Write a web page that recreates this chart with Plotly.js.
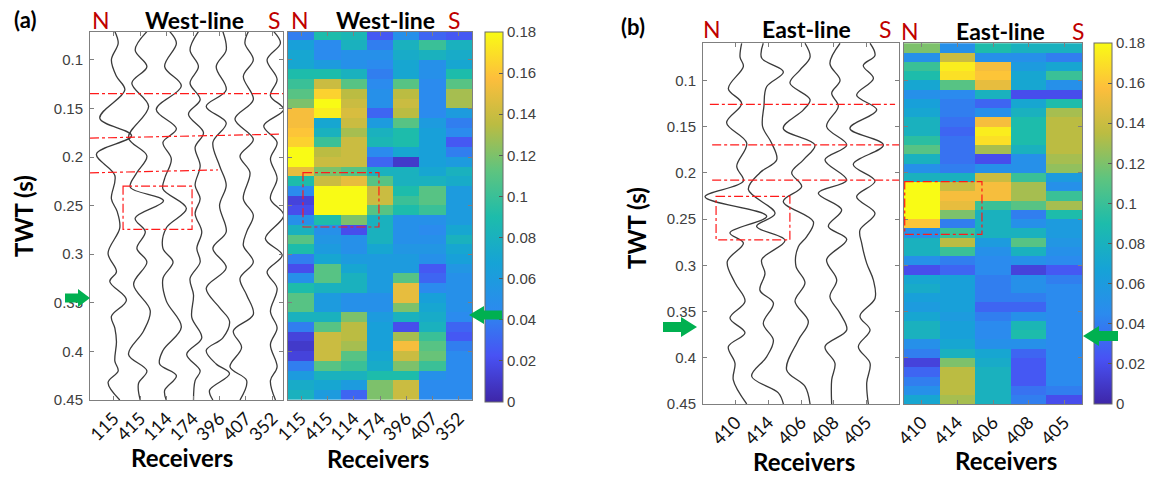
<!DOCTYPE html>
<html>
<head>
<meta charset="utf-8">
<script src="https://cdn.plot.ly/plotly-3.0.1.min.js"></script>
<style>
  html, body { margin: 0; padding: 0; background: #fff; }
  #wrap { position: relative; width: 1159px; height: 477px; }
  #chart { width: 1159px; height: 477px; }
  #marks { position: absolute; left: 0; top: 0; pointer-events: none; }
</style>
</head>
<body>
<div id="wrap">
  <div id="chart"></div>
  <svg id="marks" width="1159" height="477"></svg>
</div>
<script>
// ---------- receivers ----------
const westReceivers = ['115', '415', '114', '174', '396', '407', '352'];
const eastReceivers = ['410', '414', '406', '408', '405'];

// ---------- West-line wiggle traces: pick times (s) and normalised amplitudes ----------
const wT115 = [0.071,0.083,0.100,0.117,0.131,0.160,0.178,0.197,0.219,0.243,0.256,0.273,0.299,0.318,0.328,0.347,0.364,0.376,0.390,0.410,0.420,0.432,0.450];
const wA115 = [0.08,0.33,-0.18,0.2,0.83,-1.05,1.33,-1.3,0.08,-0.18,0.25,0.45,-0.43,0.2,-0.3,0.95,-0.18,0.08,0.2,0.08,0.33,-0.43,0.45];
const wT415 = [0.071,0.090,0.107,0.124,0.148,0.180,0.199,0.216,0.231,0.245,0.263,0.277,0.294,0.308,0.331,0.358,0.379,0.403,0.420,0.433,0.450];
const wA415 = [0.5,-0.38,0.5,-0.63,0.63,-0.88,0.5,-0.25,-0.75,1.75,-0.38,0.38,-0.25,0.5,-0.5,0.75,0.25,-0.88,0.5,-0.13,0];
const wT114 = [0.071,0.083,0.107,0.127,0.151,0.171,0.185,0.202,0.222,0.233,0.253,0.273,0.294,0.308,0.325,0.348,0.375,0.399,0.413,0.425,0.440,0.450];
const wA114 = [0.23,0.73,-0.15,1.1,-0.78,0.73,-0.28,0.35,-0.15,-0.28,1.48,-0.03,-0.28,0.48,-0.28,-0.03,1.1,-0.28,-0.53,0.73,-0.15,-0.03];
const wT174 = [0.071,0.090,0.107,0.124,0.141,0.156,0.175,0.190,0.209,0.229,0.243,0.258,0.277,0.294,0.308,0.325,0.342,0.365,0.386,0.403,0.420,0.430,0.450];
const wA174 = [0.4,-0.23,0.4,-0.23,0.53,-0.35,0.78,0.15,0.53,0.15,0.53,0.15,0.65,0.28,0.53,-0.23,0.03,-0.1,0.65,-0.48,0.53,0.15,0.03];
const wT396 = [0.071,0.090,0.107,0.131,0.148,0.165,0.185,0.209,0.229,0.250,0.277,0.294,0.314,0.335,0.355,0.369,0.386,0.399,0.413,0.423,0.440,0.450];
const wA396 = [0.25,0.5,-0.25,0.5,-1.0,0.5,-0.5,0,0.5,0,0.5,-0.5,0.5,-1.0,0,0.75,0.25,-1.0,-0.25,0.75,-0.75,-0.5];
const wT407 = [0.071,0.083,0.100,0.117,0.141,0.161,0.182,0.199,0.216,0.243,0.260,0.277,0.291,0.308,0.325,0.342,0.362,0.379,0.396,0.416,0.430,0.450];
const wA407 = [0.18,-0.08,0.55,-0.2,0.55,-0.83,0.55,-0.45,0.3,-0.2,0.55,0.05,-0.2,0.55,-0.45,0.05,0.55,-0.95,-0.33,-1.2,0.05,-0.45];
const wT352 = [0.071,0.083,0.100,0.120,0.137,0.151,0.168,0.185,0.202,0.222,0.243,0.260,0.284,0.301,0.318,0.335,0.359,0.376,0.393,0.416,0.430,0.450];
const wA352 = [0.1,0.6,-0.4,0.35,-0.15,0.85,-0.65,0.35,-0.15,0.35,-0.15,0.85,-0.53,0.73,-0.4,0.35,-0.15,0.35,-0.15,0.35,-0.15,0.23];

// ---------- East-line wiggle traces ----------
const eT410 = [0.060,0.075,0.085,0.109,0.125,0.146,0.168,0.193,0.209,0.226,0.247,0.265,0.276,0.296,0.319,0.339,0.357,0.373,0.388,0.406,0.424,0.450];
const eA410 = [0.45,0.33,0.58,-0.55,0.45,-0.68,0.83,0.08,0.58,-2.3,2.33,-0.43,0.58,-0.63,-0.05,0.7,-0.43,0.7,-0.55,-0.05,-0.18,0.83];
const eT414 = [0.060,0.076,0.091,0.107,0.128,0.150,0.168,0.186,0.200,0.218,0.244,0.258,0.273,0.294,0.309,0.327,0.341,0.363,0.381,0.399,0.420,0.438,0.450];
const eA414 = [-0.38,-0.5,1.13,-0.13,-0.33,-0.43,0.25,0.63,-0.63,-1.5,0.5,-0.88,1.25,-0.5,-0.25,-0.63,0.38,-0.38,0.38,-0.13,-1.25,0.75,1.13];
const eT406 = [0.060,0.075,0.089,0.103,0.121,0.132,0.152,0.170,0.186,0.200,0.215,0.231,0.253,0.269,0.280,0.301,0.319,0.339,0.361,0.381,0.413,0.431,0.450];
const eA406 = [0.3,0.68,-0.08,-0.83,0.68,0.18,-1.33,1.05,0.18,-0.7,0.05,-1.33,0.93,0.43,-0.2,-0.38,0.3,-0.45,0.55,-0.2,-1.08,0.3,0.68];
const eT408 = [0.060,0.082,0.100,0.114,0.128,0.150,0.170,0.186,0.208,0.222,0.240,0.258,0.272,0.294,0.316,0.334,0.352,0.370,0.388,0.406,0.424,0.450];
const eA408 = [0.48,-0.28,0.48,-0.15,0.35,-0.53,0.98,-0.65,0.98,-1.15,0.6,-0.4,0.98,-0.53,0.23,-0.28,0.48,0.98,-0.65,0.1,-0.15,-0.15];
const eT405 = [0.060,0.073,0.084,0.098,0.116,0.132,0.152,0.170,0.191,0.209,0.226,0.244,0.262,0.276,0.298,0.316,0.336,0.355,0.370,0.388,0.406,0.427,0.450];
const eA405 = [0.28,0.65,-0.23,0.53,-0.73,0.78,-1.23,1.28,-0.98,0.65,-0.73,0.65,-0.48,-0.35,0.03,0.53,0.65,-0.48,0.28,-0.6,0.28,0.03,0.15];

// ---------- amplitude maps (row times in s, one array per receiver) ----------
const westTimes = [0.075,0.085,0.095,0.105,0.115,0.125,0.135,0.145,0.155,0.165,0.175,0.185,0.195,0.205,0.215,0.225,0.235,0.245,0.255,0.265,0.275,0.285,0.295,0.305,0.315,0.325,0.335,0.345,0.355,0.365,0.375,0.385,0.395,0.405,0.415,0.425,0.435,0.445];
const wMap115 = [0.04,0.065,0.07,0.07,0.09,0.10,0.11,0.12,0.155,0.155,0.16,0.165,0.18,0.18,0.15,0.09,0.045,0.015,0.02,0.05,0.08,0.11,0.09,0.04,0.02,0.05,0.09,0.11,0.11,0.08,0.04,0.015,0.01,0.015,0.04,0.06,0.075,0.08];
const wMap415 = [0.09,0.045,0.045,0.06,0.09,0.14,0.165,0.18,0.175,0.07,0.08,0.1,0.135,0.14,0.12,0.14,0.18,0.18,0.18,0.09,0.05,0.055,0.06,0.07,0.11,0.11,0.08,0.06,0.06,0.08,0.11,0.14,0.14,0.14,0.11,0.08,0.07,0.06];
const wMap114 = [0.085,0.08,0.05,0.05,0.08,0.11,0.135,0.14,0.145,0.14,0.13,0.14,0.14,0.14,0.11,0.15,0.18,0.18,0.18,0.12,0.02,0.05,0.05,0.06,0.07,0.08,0.08,0.05,0.05,0.12,0.135,0.135,0.13,0.11,0.1,0.08,0.06,0.03];
const wMap174 = [0.025,0.04,0.05,0.045,0.04,0.045,0.05,0.05,0.03,0.06,0.08,0.085,0.045,0.03,0.08,0.11,0.14,0.14,0.11,0.08,0.08,0.08,0.07,0.06,0.06,0.06,0.06,0.05,0.05,0.06,0.065,0.065,0.065,0.07,0.075,0.09,0.12,0.12];
const wMap396 = [0.05,0.08,0.075,0.07,0.07,0.11,0.135,0.14,0.135,0.11,0.09,0.09,0.07,0.01,0.08,0.08,0.09,0.1,0.09,0.05,0.05,0.05,0.055,0.06,0.06,0.11,0.15,0.15,0.12,0.08,0.02,0.13,0.155,0.14,0.12,0.09,0.14,0.14];
const wMap407 = [0.03,0.1,0.08,0.05,0.05,0.045,0.045,0.045,0.045,0.06,0.065,0.065,0.065,0.065,0.07,0.08,0.11,0.11,0.1,0.05,0.045,0.05,0.055,0.05,0.025,0.03,0.045,0.065,0.07,0.075,0.08,0.1,0.11,0.115,0.1,0.05,0.045,0.045];
const wMap352 = [0.025,0.08,0.075,0.07,0.09,0.11,0.13,0.13,0.06,0.04,0.045,0.025,0.04,0.06,0.08,0.075,0.06,0.06,0.06,0.06,0.07,0.08,0.07,0.065,0.055,0.05,0.05,0.05,0.05,0.045,0.03,0.025,0.04,0.045,0.045,0.045,0.045,0.045];

const eastTimes = [0.065,0.075,0.085,0.095,0.105,0.115,0.125,0.135,0.145,0.155,0.165,0.175,0.185,0.195,0.205,0.215,0.225,0.235,0.245,0.255,0.265,0.275,0.285,0.295,0.305,0.315,0.325,0.335,0.345,0.355,0.365,0.375,0.385,0.395,0.405,0.415,0.425,0.435,0.445];
const eMap410 = [0.12,0.05,0.1,0.09,0.07,0.05,0.065,0.07,0.08,0.08,0.095,0.11,0.08,0.05,0.08,0.18,0.18,0.18,0.18,0.16,0.05,0.08,0.08,0.05,0.02,0.07,0.075,0.065,0.06,0.07,0.08,0.08,0.05,0.04,0.015,0.03,0.04,0.05,0.07];
const eMap414 = [0.05,0.14,0.175,0.17,0.11,0.045,0.04,0.04,0.035,0.03,0.035,0.035,0.035,0.04,0.08,0.14,0.155,0.15,0.12,0.04,0.1,0.135,0.1,0.04,0.03,0.065,0.065,0.065,0.065,0.06,0.065,0.065,0.07,0.08,0.12,0.135,0.135,0.135,0.13];
const eMap406 = [0.09,0.05,0.155,0.16,0.15,0.08,0.03,0.05,0.155,0.175,0.17,0.13,0.02,0.05,0.14,0.155,0.155,0.1,0.08,0.08,0.08,0.06,0.05,0.045,0.045,0.04,0.04,0.04,0.03,0.04,0.045,0.045,0.05,0.07,0.075,0.08,0.08,0.08,0.08];
const eMap408 = [0.08,0.05,0.06,0.07,0.07,0.02,0.07,0.08,0.09,0.09,0.09,0.08,0.05,0.05,0.1,0.13,0.13,0.11,0.04,0.05,0.08,0.11,0.08,0.05,0.015,0.05,0.05,0.04,0.03,0.05,0.085,0.09,0.05,0.03,0.025,0.025,0.025,0.035,0.04];
const eMap405 = [0.08,0.04,0.07,0.1,0.05,0.02,0.09,0.13,0.135,0.135,0.135,0.135,0.13,0.125,0.06,0.05,0.1,0.13,0.09,0.06,0.06,0.055,0.05,0.045,0.025,0.04,0.045,0.045,0.045,0.045,0.045,0.045,0.045,0.045,0.045,0.045,0.045,0.04,0.02];

// ---------- interpreted horizons and anomaly windows (s) ----------
const westHorizonN = [0.1347, 0.1806, 0.2163];
const westHorizonS = [0.1347, 0.1765, 0.2133];
const westWiggleBox = [0.230, 0.2745];
const westMapBox = [0.216, 0.272];
const eastHorizon = [0.126, 0.1698, 0.208];
const eastWiggleBox = [0.2256, 0.2726];
const eastMapBox = [0.2096, 0.2665];

const colorTicks = [0, 0.02, 0.04, 0.06, 0.08, 0.1, 0.12, 0.14, 0.16, 0.18];
const colorTickText = ['0', '0.02', '0.04', '0.06', '0.08', '0.1', '0.12', '0.14', '0.16', '0.18'];
const timeTicks = [0.1, 0.15, 0.2, 0.25, 0.3, 0.35, 0.4, 0.45];
const timeTickText = ['0.1', '0.15', '0.2', '0.25', '0.3', '0.35', '0.4', '0.45'];

// ---------- drawing ----------
const W = 1159, H = 477;
const px = x => x / W;
const py = y => 1 - y / H;

const parula = [
  [0, '#3e26a8'], [0.125, '#4852f4'], [0.25, '#2b8bee'], [0.375, '#16a3d6'],
  [0.5, '#1dbcab'], [0.625, '#5ec47f'], [0.75, '#bbbc42'], [0.875, '#fdbe3c'], [1, '#f9fb15']
];

const westGain = 0.504, eastGain = 0.408;
const wiggleLine = { color: '#3a3a3a', width: 1.3, shape: 'spline', smoothing: 1 };

function wiggle(times, amps, pos, gain, xa, ya) {
  return {
    type: 'scatter', mode: 'lines', xaxis: xa, yaxis: ya,
    x: amps.map(a => pos + a * gain), y: times,
    line: wiggleLine, hoverinfo: 'skip', showlegend: false
  };
}

function toRows(cols) {
  return cols[0].map((_, r) => cols.map(c => c[r]));
}

function colorbar(left, top, bottom) {
  return {
    x: px(left), xanchor: 'left', xpad: 0,
    y: py(top), yanchor: 'top', ypad: 0,
    len: (bottom - top) / H, lenmode: 'fraction',
    thickness: 18, thicknessmode: 'pixels',
    outlinewidth: 1, outlinecolor: '#6a6a6a',
    tickvals: colorTicks, ticktext: colorTickText,
    ticks: 'inside', ticklen: 4, tickcolor: '#555',
    tickfont: { family: 'Liberation Sans, Arial, sans-serif', size: 15, color: '#404040' }
  };
}

const westTraces = [[wT115, wA115], [wT415, wA415], [wT114, wA114], [wT174, wA174], [wT396, wA396], [wT407, wA407], [wT352, wA352]];
const eastTraces = [[eT410, eA410], [eT414, eA414], [eT406, eA406], [eT408, eA408], [eT405, eA405]];

const data = [];
westTraces.forEach((tr, i) => data.push(wiggle(tr[0], tr[1], i + 1, westGain, 'x', 'y')));
eastTraces.forEach((tr, i) => data.push(wiggle(tr[0], tr[1], i + 1, eastGain, 'x3', 'y3')));

data.push({
  type: 'heatmap', xaxis: 'x2', yaxis: 'y2',
  x: westReceivers.map((_, i) => i + 1), y: westTimes,
  z: toRows([wMap115, wMap415, wMap114, wMap174, wMap396, wMap407, wMap352]),
  zmin: 0, zmax: 0.18, zsmooth: false, colorscale: parula,
  colorbar: colorbar(485, 32, 402), hoverinfo: 'skip'
});
data.push({
  type: 'heatmap', xaxis: 'x4', yaxis: 'y4',
  x: eastReceivers.map((_, i) => i + 1), y: eastTimes,
  z: toRows([eMap410, eMap414, eMap406, eMap408, eMap405]),
  zmin: 0, zmax: 0.18, zsmooth: false, colorscale: parula,
  colorbar: colorbar(1094, 43, 404), hoverinfo: 'skip'
});

const axisBase = {
  showline: true, linecolor: '#7f7f7f', linewidth: 1, mirror: 'ticks',
  ticks: 'inside', ticklen: 4, tickwidth: 1, tickcolor: '#7f7f7f',
  showgrid: false, zeroline: false, fixedrange: true, autorange: false
};
const xTickFont = { family: 'Lato, sans-serif', size: 18, color: '#111' };
const yTickFont = { family: 'Liberation Sans, Arial, sans-serif', size: 15, color: '#404040' };

const layout = {
  width: W, height: H,
  margin: { l: 0, r: 0, t: 0, b: 0 },
  paper_bgcolor: '#fff', plot_bgcolor: '#fff',
  showlegend: false,
  xaxis: Object.assign({}, axisBase, {
    domain: [px(90), px(283)], range: [0.1, 7.4], anchor: 'y',
    tickvals: westReceivers.map((_, i) => i + 1), ticktext: westReceivers,
    tickangle: -45, tickfont: xTickFont
  }),
  yaxis: Object.assign({}, axisBase, {
    domain: [py(400), py(32)], range: [0.45, 0.0714], anchor: 'x',
    tickvals: timeTicks, ticktext: timeTickText, tickfont: yTickFont, ticklabelstandoff: 3
  }),
  xaxis2: Object.assign({}, axisBase, {
    domain: [px(288), px(472)], range: [0.5, 7.5], anchor: 'y2',
    tickvals: westReceivers.map((_, i) => i + 1), ticktext: westReceivers,
    tickangle: -45, tickfont: xTickFont
  }),
  yaxis2: Object.assign({}, axisBase, {
    domain: [py(400), py(32)], range: [0.45, 0.0714], anchor: 'x2',
    tickvals: timeTicks, showticklabels: false
  }),
  xaxis3: Object.assign({}, axisBase, {
    domain: [px(703), px(899)], range: [0, 6], anchor: 'y3',
    tickvals: eastReceivers.map((_, i) => i + 1), ticktext: eastReceivers,
    tickangle: -45, tickfont: xTickFont
  }),
  yaxis3: Object.assign({}, axisBase, {
    domain: [py(404), py(43)], range: [0.45, 0.0597], anchor: 'x3',
    tickvals: timeTicks, ticktext: timeTickText, tickfont: yTickFont, ticklabelstandoff: 3
  }),
  xaxis4: Object.assign({}, axisBase, {
    domain: [px(904), px(1082)], range: [0.5, 5.5], anchor: 'y4',
    tickvals: eastReceivers.map((_, i) => i + 1), ticktext: eastReceivers,
    tickangle: -45, tickfont: xTickFont
  }),
  yaxis4: Object.assign({}, axisBase, {
    domain: [py(404), py(43)], range: [0.45, 0.0597], anchor: 'x4',
    tickvals: timeTicks, showticklabels: false
  }),
  shapes: [],
  annotations: []
};

// red dash-dot horizons and windows
const red = { color: '#ff1a1a', width: 1.2, dash: 'dashdot' };
function hline(xa, ya, x0, x1, t0, t1) {
  layout.shapes.push({ type: 'line', xref: xa, yref: ya, x0: x0, x1: x1, y0: t0, y1: t1, line: red });
}
function box(xa, ya, x0, x1, t) {
  layout.shapes.push({ type: 'rect', xref: xa, yref: ya, x0: x0, x1: x1, y0: t[0], y1: t[1], line: red, fillcolor: 'rgba(0,0,0,0)' });
}
const westEnds = [7.4, 7.29, 4.94];
westHorizonN.forEach((t, i) => hline('x', 'y', 0.1, westEnds[i], t, westHorizonS[i]));
box('x', 'y', 1.35, 3.96, westWiggleBox);
box('x2', 'y2', 1.07, 3.96, westMapBox);
const eastStarts = [0.21, 0.28, 0.28], eastEnds = [5.88, 6, 6];
eastHorizon.forEach((t, i) => hline('x3', 'y3', eastStarts[i], eastEnds[i], t, t));
box('x3', 'y3', 0.4, 2.66, eastWiggleBox);
box('x4', 'y4', 0.52, 2.69, eastMapBox);

// text labels
function label(text, x, y, opts) {
  layout.annotations.push(Object.assign({
    text: text, x: px(x), y: py(y), xref: 'paper', yref: 'paper',
    showarrow: false, xanchor: 'center', yanchor: 'middle',
    font: { family: 'Lato, sans-serif', size: 23, color: '#000', weight: 700 }
  }, opts || {}));
}
const redFont = { family: 'Lato, sans-serif', size: 23, color: '#c00000', weight: 400 };
const bigBold = { family: 'Lato, sans-serif', size: 24, color: '#000', weight: 700 };
label('(a)', 25, 20, { font: { family: 'Lato, sans-serif', size: 22, color: '#000', weight: 700 } });
label('N', 101, 20, { font: redFont });
label('West-line', 194, 20);
label('S', 274, 20, { font: redFont });
label('N', 300, 20, { font: redFont });
label('West-line', 386, 20);
label('S', 454, 20, { font: redFont });
label('(b)', 633, 27, { font: { family: 'Lato, sans-serif', size: 22, color: '#000', weight: 700 } });
label('N', 712, 29, { font: redFont });
label('East-line', 806, 29);
label('S', 885, 29, { font: redFont });
label('N', 910, 31, { font: redFont });
label('East-line', 1000, 31);
label('S', 1078, 31, { font: redFont });
label('TWT (s)', 23, 216, { textangle: -90, font: bigBold });
label('TWT (s)', 636, 228, { textangle: -90, font: bigBold });
label('Receivers', 182, 457, { font: bigBold });
label('Receivers', 378, 458, { font: bigBold });
label('Receivers', 804, 461, { font: bigBold });
label('Receivers', 1006, 460, { font: bigBold });

Plotly.newPlot('chart', data, layout, { staticPlot: true, displayModeBar: false }).then(() => {
  // green level markers, laid over the plot so they sit on top of the colour bars
  const svg = document.getElementById('marks');
  function arrow(tipX, tipY, dir, headLen, shaftLen, headHalf, shaftHalf) {
    const bx = tipX - dir * headLen, ex = bx - dir * shaftLen;
    const pts = [
      [tipX, tipY], [bx, tipY - headHalf], [bx, tipY - shaftHalf], [ex, tipY - shaftHalf],
      [ex, tipY + shaftHalf], [bx, tipY + shaftHalf], [bx, tipY + headHalf]
    ];
    const poly = document.createElementNS('http://www.w3.org/2000/svg', 'polygon');
    poly.setAttribute('points', pts.map(p => p.join(',')).join(' '));
    poly.setAttribute('fill', '#00b050');
    svg.appendChild(poly);
  }
  arrow(90, 298, 1, 12, 13, 9, 4.5);
  arrow(469, 315, -1, 15, 18, 9, 4.5);
  arrow(697, 327, 1, 16, 18, 10, 5);
  arrow(1083, 336, -1, 16, 19, 10, 5);
});
</script>
</body>
</html>
